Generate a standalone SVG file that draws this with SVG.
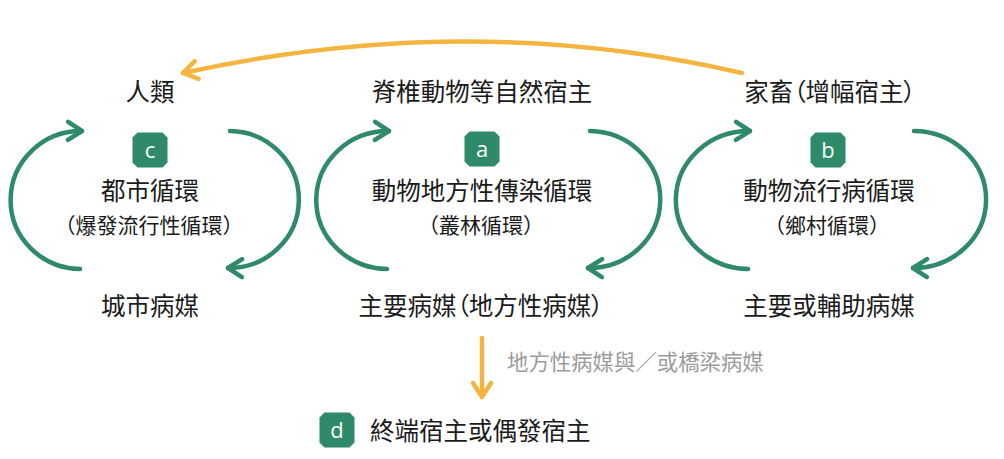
<svg xmlns="http://www.w3.org/2000/svg" width="1004" height="459" viewBox="0 0 1004 459">
<style>
.t{font-family:"Noto Sans CJK TC","Noto Sans CJK SC",sans-serif;fill:#1a1a1a;text-anchor:middle}
.m{font-size:24.5px}
.s{font-size:21px}
.p{font-feature-settings:"palt"}
.g{font-family:"Noto Sans CJK TC","Noto Sans CJK SC",sans-serif;font-size:21.4px;fill:#9b9b9b}
.bl{font-family:"Open Sans","Noto Sans",sans-serif;font-size:22px;fill:#fff;text-anchor:middle}
.arc{fill:none;stroke:#2e8a68;stroke-width:4.5;stroke-linecap:round;marker-end:url(#ga)}
.yl{fill:none;stroke:#f3b540;stroke-width:4.5;stroke-linecap:round;marker-end:url(#ya)}
.badge{fill:#2e8a68}
</style>
<defs>
<marker id="ga" markerUnits="userSpaceOnUse" markerWidth="40" markerHeight="40" viewBox="-20 -20 40 40" refX="0" refY="0" orient="auto">
<path d="M-14,-9 L0,0 L-14,9" fill="none" stroke="#2e8a68" stroke-width="4.5" stroke-linecap="round" stroke-linejoin="round"/>
</marker>
<marker id="ya" markerUnits="userSpaceOnUse" markerWidth="40" markerHeight="40" viewBox="-20 -20 40 40" refX="0" refY="0" orient="auto">
<path d="M-14,-9 L0,0 L-14,9" fill="none" stroke="#f3b540" stroke-width="4.5" stroke-linecap="round" stroke-linejoin="round"/>
</marker>
<path id="oct" d="M-12.5,-17.5 H12.5 L17.5,-12.5 V12.5 L12.5,17.5 H-12.5 L-17.5,12.5 V-12.5 Z"/>
</defs>

<g id="connectors">
<path class="arc" d="M80,269 A51,50 0 0 1 82,131"/>
<path class="arc" d="M230,131 A51,50 0 0 1 228,268"/>
<path class="arc" d="M387,269 A52,50 0 0 1 389,131"/>
<path class="arc" d="M590,131 A52,50 0 0 1 588,268"/>
<path class="arc" d="M748,269 A53,50 0 0 1 750,131"/>
<path class="arc" d="M914,131 A53,50 0 0 1 913,268"/>
<path class="yl" d="M742,73 Q470,10 183,73"/>
<path class="yl" d="M482,338 V397"/>
</g>

<g id="human"><text class="t m" x="150" y="101">人類</text></g>
<g id="vertebrate"><text class="t m" x="482" y="101">脊椎動物等自然宿主</text></g>
<g id="livestock"><text class="t m p" x="830" y="101">家畜（增幅宿主）</text></g>

<g id="cycle-c">
<use href="#oct" class="badge" x="150" y="150"/>
<text class="bl" x="150" y="158">c</text>
<text class="t m" x="150" y="200">都市循環</text>
<text class="t s" x="149" y="233">（爆發流行性循環）</text>
</g>
<g id="cycle-a">
<use href="#oct" class="badge" x="482" y="149"/>
<text class="bl" x="482" y="157">a</text>
<text class="t m" x="482" y="200">動物地方性傳染循環</text>
<text class="t s" x="481" y="233">（叢林循環）</text>
</g>
<g id="cycle-b">
<use href="#oct" class="badge" x="828" y="150"/>
<text class="bl" x="828" y="158">b</text>
<text class="t m" x="829" y="200">動物流行病循環</text>
<text class="t s" x="827" y="233">（鄉村循環）</text>
</g>

<g id="urban-vector"><text class="t m" x="150" y="315">城市病媒</text></g>
<g id="main-vector"><text class="t m p" x="481" y="315">主要病媒（地方性病媒）</text></g>
<g id="main-aux-vector"><text class="t m" x="829" y="315">主要或輔助病媒</text></g>

<g id="bridge-label"><text class="g" x="507" y="370">地方性病媒與／或橋梁病媒</text></g>

<g id="dead-end">
<use href="#oct" class="badge" x="337" y="430"/>
<text class="bl" x="337" y="438">d</text>
<text class="t m" x="370" y="440" style="text-anchor:start">終端宿主或偶發宿主</text>
</g>
</svg>
